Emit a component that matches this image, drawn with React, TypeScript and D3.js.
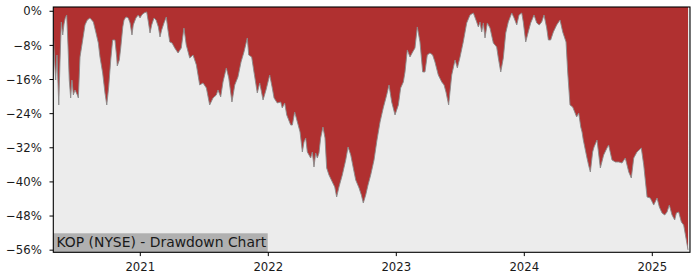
import React from "react";
import * as d3 from "d3";

// Decimal-year positions of the drawdown samples
const years: number[] = [
  2020.322, 2020.330, 2020.339, 2020.349, 2020.363, 2020.373, 2020.383, 2020.394, 2020.404, 2020.414,
  2020.425, 2020.435, 2020.445, 2020.456, 2020.466, 2020.477, 2020.490, 2020.508, 2020.516, 2020.529,
  2020.550, 2020.568, 2020.586, 2020.607, 2020.633, 2020.654, 2020.672, 2020.685, 2020.706, 2020.724,
  2020.738, 2020.753, 2020.769, 2020.784, 2020.802, 2020.816, 2020.820, 2020.836, 2020.847, 2020.863,
  2020.873, 2020.888, 2020.906, 2020.920, 2020.935, 2020.945, 2020.966, 2020.984, 2020.998, 2021.011,
  2021.029, 2021.050, 2021.063, 2021.076, 2021.089, 2021.107, 2021.123, 2021.141, 2021.154, 2021.167,
  2021.185, 2021.203, 2021.216, 2021.230, 2021.248, 2021.269, 2021.295, 2021.320, 2021.341, 2021.359,
  2021.386, 2021.412, 2021.438, 2021.464, 2021.490, 2021.516, 2021.542, 2021.568, 2021.594, 2021.607,
  2021.628, 2021.646, 2021.672, 2021.691, 2021.716, 2021.738, 2021.763, 2021.787, 2021.810, 2021.836,
  2021.847, 2021.870, 2021.888, 2021.914, 2021.933, 2021.959, 2021.982, 2022.011, 2022.031, 2022.045,
  2022.070, 2022.097, 2022.109, 2022.128, 2022.144, 2022.175, 2022.188, 2022.206, 2022.227, 2022.248,
  2022.266, 2022.279, 2022.292, 2022.305, 2022.318, 2022.331, 2022.344, 2022.357, 2022.370, 2022.383,
  2022.396, 2022.409, 2022.427, 2022.443, 2022.456, 2022.474, 2022.500, 2022.519, 2022.534, 2022.552,
  2022.578, 2022.605, 2022.623, 2022.644, 2022.664, 2022.683, 2022.709, 2022.727, 2022.742, 2022.761,
  2022.779, 2022.800, 2022.826, 2022.849, 2022.873, 2022.898, 2022.925, 2022.943, 2022.964, 2022.990,
  2023.016, 2023.034, 2023.055, 2023.068, 2023.086, 2023.107, 2023.128, 2023.146, 2023.164, 2023.185,
  2023.206, 2023.224, 2023.242, 2023.263, 2023.284, 2023.302, 2023.328, 2023.355, 2023.373, 2023.388,
  2023.409, 2023.433, 2023.459, 2023.477, 2023.498, 2023.523, 2023.550, 2023.576, 2023.602, 2023.628,
  2023.641, 2023.654, 2023.667, 2023.680, 2023.693, 2023.711, 2023.732, 2023.758, 2023.784, 2023.797,
  2023.816, 2023.836, 2023.855, 2023.875, 2023.902, 2023.920, 2023.941, 2023.959, 2023.980, 2023.992,
  2024.011, 2024.031, 2024.050, 2024.076, 2024.097, 2024.117, 2024.136, 2024.154, 2024.175, 2024.188,
  2024.206, 2024.227, 2024.253, 2024.279, 2024.300, 2024.326, 2024.339, 2024.357, 2024.378, 2024.409,
  2024.425, 2024.441, 2024.451, 2024.461, 2024.488, 2024.502, 2024.516, 2024.534, 2024.545, 2024.568,
  2024.594, 2024.620, 2024.646, 2024.659, 2024.685, 2024.711, 2024.738, 2024.763, 2024.789, 2024.816,
  2024.836, 2024.855, 2024.880, 2024.914, 2024.933, 2024.959, 2024.984, 2025.011, 2025.037, 2025.055,
  2025.076, 2025.097, 2025.115, 2025.133, 2025.154, 2025.175, 2025.188, 2025.206, 2025.227, 2025.245,
  2025.263, 2025.279,
];

// Drawdown from running peak, in percent
const drawdown: number[] = [
  -6.26, -11.42, -16.11, -10.25, -21.97, -11.42, -2.51, -5.56, -2.98, -1.57,
  -0.87, -7.90, -16.11, -20.33, -16.11, -19.62, -18.45, -19.62, -20.33, -10.72,
  -6.73, -3.21, -2.04, -1.57, -2.51, -5.09, -7.43, -10.72, -14.47, -19.16,
  -21.97, -17.75, -11.42, -6.73, -6.73, -10.95, -12.83, -11.42, -8.61, -3.68,
  -2.04, -1.34, -1.57, -2.74, -5.56, -3.21, -1.57, -0.87, -1.57, -0.87,
  -0.40, -0.16, -2.51, -5.09, -3.21, -1.57, -2.04, -3.68, -6.03, -4.38,
  -2.74, -1.34, -4.38, -7.20, -7.43, -8.61, -9.78, -8.61, -3.92, -7.90,
  -10.95, -10.25, -12.59, -17.28, -16.81, -17.98, -21.97, -20.33, -19.62, -18.45,
  -20.09, -16.58, -13.29, -15.64, -21.27, -17.28, -15.40, -11.89, -9.54, -6.26,
  -10.25, -10.72, -14.23, -19.16, -16.81, -20.80, -18.45, -14.94, -17.98, -20.33,
  -21.50, -21.27, -22.67, -21.50, -24.31, -26.66, -26.66, -23.61, -25.96, -28.30,
  -32.99, -30.64, -29.71, -32.99, -33.69, -34.40, -32.99, -36.51, -33.22, -34.40,
  -33.22, -29.71, -27.13, -29.71, -36.74, -38.38, -40.02, -41.20, -43.54, -41.20,
  -38.38, -34.86, -31.81, -33.69, -36.74, -39.55, -41.43, -43.07, -44.95, -43.07,
  -40.73, -38.38, -34.86, -30.18, -25.96, -22.67, -19.62, -17.28, -21.27, -24.31,
  -21.97, -17.98, -16.58, -14.23, -9.07, -10.72, -9.54, -8.61, -3.68, -7.20,
  -14.23, -14.23, -10.25, -9.78, -10.25, -11.89, -14.94, -16.58, -17.28, -18.92,
  -21.97, -14.94, -11.42, -13.29, -10.72, -7.20, -2.74, -0.87, -0.40, -2.51,
  -3.68, -2.51, -4.85, -2.74, -6.26, -2.74, -3.92, -7.43, -8.37, -10.95,
  -14.23, -10.95, -5.09, -2.51, -0.40, -1.57, -3.21, -0.87, -0.40, -2.51,
  -7.20, -4.85, -2.74, -0.87, -2.74, -3.21, -2.51, -0.87, -3.92, -6.73,
  -6.73, -4.85, -3.21, -2.04, -4.85, -7.20, -14.23, -21.97, -22.44, -24.78,
  -23.85, -27.13, -28.30, -30.18, -34.16, -36.04, -37.68, -32.99, -31.81, -30.18,
  -36.74, -33.69, -32.05, -31.35, -34.86, -35.33, -35.33, -35.57, -34.40, -37.68,
  -39.09, -34.40, -32.99, -32.05, -36.04, -43.54, -43.78, -45.42, -43.78, -45.89,
  -47.29, -47.76, -47.06, -45.42, -47.76, -48.93, -47.29, -47.06, -49.40, -50.11,
  -53.15, -55.96,
];

const yTicks: number[] = [0, -8, -16, -24, -32, -40, -48, -56];
const xTicks: number[] = [2021, 2022, 2023, 2024, 2025];
const title = "KOP (NYSE) - Drawdown Chart";

const W = 700;
const H = 280;
const L = 53.3;
const R = 690;
const T = 7;
const B = 252.3;

const FONT = "'DejaVu Sans', sans-serif";

export default function App() {
  const x = d3.scaleLinear().domain([2020.3203, 2025.2945]).range([L, R]);
  const y = d3.scaleLinear().domain([-56.5, 1.0]).range([B, T]);

  const pts = years.map((yr, i) => ({ yr, dd: drawdown[i] }));
  const area = d3
    .area<{ yr: number; dd: number }>()
    .x((d) => x(d.yr))
    .y0(y(1.0))
    .y1((d) => y(d.dd));
  const line = d3
    .line<{ yr: number; dd: number }>()
    .x((d) => x(d.yr))
    .y((d) => y(d.dd));

  const fmt = (v: number) => (v < 0 ? "\u2212" + Math.abs(v) : String(v)) + "%";

  return (
    <svg
      width={W}
      height={H}
      style={{ position: "fixed", left: 0, top: 0, background: "#ffffff" }}
    >
      <rect x={L} y={T} width={R - L} height={B - T} fill="#ececec" />
      <path d={area(pts) || ""} fill="#b03030" />
      <path d={line(pts) || ""} fill="none" stroke="#8a8a8a" strokeWidth={0.9} />
      <rect x={L} y={233.3} width={267.7 - L} height={B - 233.3} fill="#b0b0b0" />
      <text x={56.5} y={247.3} fontFamily={FONT} fontSize={13.9} fill="#1a1a1a">
        {title}
      </text>
      <rect x={L} y={T} width={R - L} height={B - T} fill="none" stroke="#000" strokeWidth={1.1} />
      {yTicks.map((v) => (
        <g key={v}>
          <line x1={L - 3.8} x2={L} y1={y(v)} y2={y(v)} stroke="#000" strokeWidth={1} />
          <text
            x={L - 11.5}
            y={y(v)}
            dy="0.36em"
            textAnchor="end"
            fontFamily={FONT}
            fontSize={11.7}
            fill="#1a1a1a"
          >
            {fmt(v)}
          </text>
        </g>
      ))}
      {xTicks.map((v) => (
        <g key={v}>
          <line x1={x(v)} x2={x(v)} y1={B} y2={B + 3.8} stroke="#000" strokeWidth={1} />
          <text
            x={x(v)}
            y={270.8}
            textAnchor="middle"
            fontFamily={FONT}
            fontSize={11.7}
            fill="#1a1a1a"
          >
            {v}
          </text>
        </g>
      ))}
    </svg>
  );
}
